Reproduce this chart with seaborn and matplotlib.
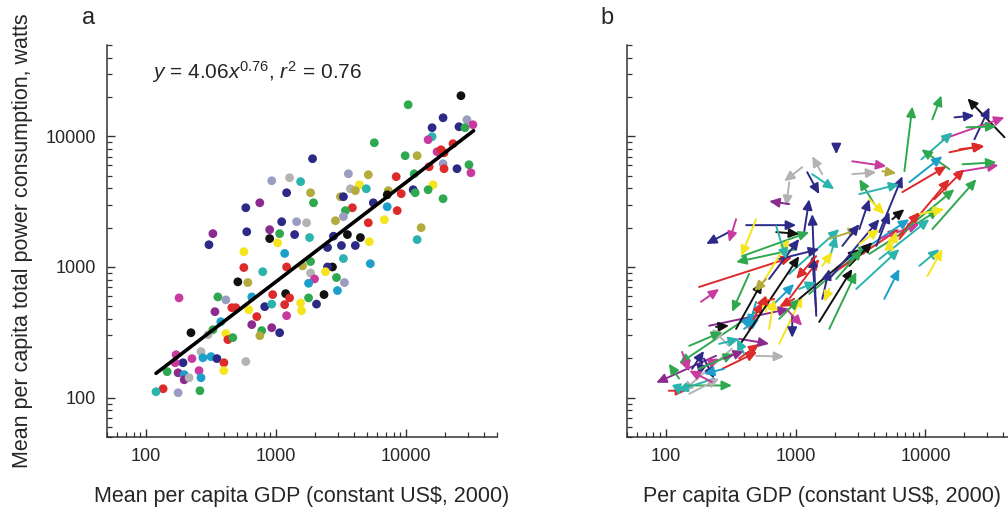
import matplotlib
matplotlib.use("Agg")
import matplotlib.pyplot as plt
import matplotlib.ticker as mticker
import seaborn as sns
import pandas as pd

# --- colours used for the country groups ---
PALETTE = {
    "N": "#2d2a87", "P": "#8b2a8f", "M": "#c93a9f", "R": "#dd2a2a",
    "G": "#2fa84f", "T": "#2bb3ad", "C": "#1c9fcb", "Y": "#f4e51e",
    "O": "#b3ab3c", "S": "#b3b3b3", "L": "#9b9cc2", "K": "#111111",
}

# --- panel a: mean per capita GDP vs mean per capita power ---
gdp_a = [26390, 10360, 19220, 29330, 15820, 25480, 28330, 32600, 15820, 14750,
         5689, 22910, 17280, 18540, 19560, 9820, 12140, 19220, 30410, 24600,
         19560, 31480, 15010, 8378, 11520, 5111, 3594, 16100, 4365, 3723,
         4064, 4932, 14750, 11320, 11720, 9160, 7278, 7149, 3121, 3290,
         5589, 7149, 3856, 3409, 3290, 8529, 19220, 2858, 5111, 6780,
         13030, 12140, 2758, 3531, 4444, 5203, 2483, 3176, 4064, 1904,
         924, 1268, 1541, 1203, 1838, 1937, 748, 584, 1102, 1436,
         1714, 326, 594, 891, 1063, 1386, 1806, 891, 1026, 304,
         564, 1162, 564, 788, 1203, 1838, 1596, 507, 605, 1838,
         1972, 1775, 179, 356, 410, 649, 940, 1183, 1268, 456,
         489, 615, 816, 924, 1162, 1775, 1541, 1568, 2043, 338,
         709, 1203, 375, 649, 924, 1063, 326, 221, 299, 410,
         425, 464, 774, 748, 170, 264, 273, 192, 225, 315,
         350, 396, 584, 396, 145, 167, 176, 255, 196, 196,
         264, 214, 135, 119, 176, 259, 3290, 5297, 2710, 2483,
         2394, 2909, 3349, 2961, 2333]
power_a = [20460, 17450, 13870, 13400, 11640, 11840, 11640, 12270, 9930, 9420,
           8930, 8780, 7620, 7890, 7480, 7110, 7110, 6170, 6060, 5650,
           5650, 5260, 5850, 4910, 5170, 5080, 5170, 4260, 4260, 3970,
           3840, 3970, 3900, 3900, 3700, 3640, 3840, 3570, 3450, 3450,
           3100, 2890, 2840, 2700, 2430, 2700, 3330, 2260, 2180, 2300,
           2000, 1620, 1720, 1770, 1680, 1560, 1410, 1460, 1460, 6740,
           4570, 4820, 4500, 3700, 3700, 3100, 3100, 2840, 2220, 2220,
           2180, 1800, 1860, 1930, 1800, 1770, 1680, 1650, 1530, 1480,
           1310, 1270, 990, 920, 1000, 1100, 1020, 770, 760, 900,
           810, 750, 580, 590, 560, 590, 615, 625, 580, 488,
           488, 471, 497, 520, 515, 580, 530, 463, 520, 455,
           417, 424, 381, 362, 343, 314, 331, 314, 303, 309,
           278, 288, 326, 298, 213, 225, 202, 185, 199, 206,
           199, 185, 189, 161, 158, 185, 155, 161, 150, 137,
           142, 142, 117, 111, 109, 113, 1160, 1060, 1000, 1000,
           920, 830, 760, 660, 615]
group_a = list("KGNLNNGMTM" "GRMRRGOLGN" "RMRRGOLYYS" "OTGNGROKON"
               "NCRGLRGORY" "OTNKKYNNNN" "LSTNOGPNNL" "SPNPGNTKYN"
               "YCRTRGOKOS" "MCMGLCRKRR" "RYNTRGYYNP" "RMCPPNGKSY"
               "RGGOMSCNMC" "NRSYGMPMCP" "CSRTLGTCKN" "YGLCK")

# fitted power law shown on the chart
FIT_A, FIT_B = 4.06, 0.76
fit_gdp = [119, 33000]

# --- panel b: trajectories (start -> end) ---
tail_gdp = [40740, 6886, 11320, 23880, 16750, 13520, 20750, 9312, 15320, 18320,
            15320, 17350, 19310, 7521, 6643, 11320, 6299, 4416, 2730, 2730,
            4658, 2055, 1602, 1227, 1340, 1122, 891, 891, 1164, 415,
            306, 347, 495, 386, 180, 186, 437, 495, 243, 323,
            143, 271, 495, 105, 122, 190, 133, 215, 746, 940,
            495, 1518, 1815, 2931, 8987, 10360, 891, 1439, 845, 243,
            306, 592, 415, 1009, 347, 437, 523, 624, 891, 1064,
            1271, 1815, 2168, 2588, 1815, 3093, 3696, 4416, 746, 4038,
            3696, 3093, 4822, 5561, 235, 180, 196, 151, 180, 257,
            366, 400, 366, 682, 624, 746, 1602, 4416, 6299, 3093,
            5561, 11720, 8987,
            707, 707, 1439, 592, 366, 1439, 6299, 5272, 4188, 2290,
            2588, 1815, 1602, 2055, 682, 973, 1815, 1064, 151, 159,
            226, 280, 126, 280, 400]
tail_pow = [9830, 5410, 13490, 9490, 13960, 9490, 11720, 6670, 7550, 7960,
            5600, 5310, 6110, 4450, 3740, 1950, 1640, 1850, 6440, 5130,
            5410, 7960, 5130, 5310, 5130, 5800, 4450, 3030, 1880, 2090,
            1850, 2320, 2320, 1210, 703, 541, 885, 453, 209, 237,
            124, 166, 209, 113, 124, 188, 224, 355, 258, 423,
            541, 380, 336, 679, 1020, 853, 570, 453, 478, 348,
            249, 453, 380, 1370, 336, 336, 679, 810, 885, 570,
            622, 810, 966, 1150, 1640, 1500, 1260, 1640, 1150, 3030,
            3300, 3610, 570, 1500, 140, 166, 199, 107, 166, 258,
            199, 336, 282, 523, 336, 401, 570, 1150, 1770, 1950,
            2320, 3300, 2540,
            1850, 2060, 423, 810, 249, 1210, 1730, 1370, 1450, 1450,
            1020, 1150, 1020, 810, 570, 570, 679, 679, 249, 166,
            132, 166, 140, 199, 217]
head_gdp = [21090, 7932, 13300, 31190, 23880, 40740, 35320, 16150, 28050, 28560,
            9312, 36630, 35320, 13520, 14530, 24770, 15320, 6643, 5000, 4188,
            5973, 2055, 1340, 1518, 1982, 815, 845, 624, 1271, 1009,
            204, 306, 380, 1271, 940, 257, 323, 126, 84, 133,
            323, 504, 815, 143, 126, 180, 151, 891, 1122, 940,
            437, 2730, 2931, 6299, 12820, 13520, 1518, 1340, 1122, 306,
            226, 592, 460, 347, 551, 551, 891, 1064, 2168, 3093,
            3696, 4416, 6299, 7521, 3093, 4416, 12820, 8987, 1518, 3093,
            4822, 6299, 6299, 5973, 122, 257, 235, 257, 335, 366,
            523, 523, 624, 973, 682, 1064, 1815, 10730, 16750, 3696,
            6886, 20000, 14030,
            1064, 845, 1340, 478, 1064, 1009, 8987, 5272, 5272, 3093,
            3899, 2055, 1915, 3263, 495, 746, 1660, 1439, 271, 196,
            151, 196, 105, 400, 353]
head_pow = [19500, 16940, 20560, 16650, 14450, 13960, 11920, 10730, 8530, 8390,
            7960, 6010, 6330, 7040, 5900, 4700, 4700, 4950, 5900, 5310,
            5220, 7290, 7040, 3610, 3940, 4530, 2920, 3190, 3300, 2090,
            1500, 1550, 1210, 1850, 1190, 679, 453, 182, 130, 111,
            124, 224, 206, 113, 104, 147, 158, 478, 601, 287,
            355, 966, 916, 1370, 1370, 1370, 1150, 1210, 355, 355,
            336, 601, 423, 1090, 768, 541, 1640, 1640, 1950, 1370,
            1500, 2320, 1950, 2320, 1950, 1950, 2770, 2130, 1370, 4700,
            2540, 4300, 966, 1880, 113, 199, 140, 140, 217, 282,
            258, 401, 258, 741, 570, 570, 966, 2320, 3940, 3300,
            2770, 5600, 2770,
            1790, 1150, 2540, 656, 1210, 810, 2630, 1640, 2630, 2130,
            1550, 1730, 1300, 1370, 523, 495, 541, 768, 319, 228,
            161, 152, 182, 228, 282]
group_b = list("KGGNNMGTRR" "GMGCRGRNMS" "ONSNTSSPNN" "NMYGRMGGPS"
               "GRSRTNMPYN" "CKGTTYRNMK" "SYCGKRYNTK" "GNRCOYGMNG"
               "YTCYTMNSGT" "RCPCYGNTGN" "KRY"
               "KTNOKRRYNN" "KTYGRRYTGN" "MCGPT")

# --- style ---
sns.set_style("ticks")
plt.rcParams["font.family"] = ["Liberation Sans", "DejaVu Sans"]
plt.rcParams["mathtext.fontset"] = "custom"
plt.rcParams["mathtext.rm"] = "Liberation Sans"
plt.rcParams["mathtext.it"] = "Liberation Sans:italic"
plt.rcParams["axes.edgecolor"] = "#333333"
plt.rcParams["axes.linewidth"] = 1.1

fig = plt.figure(figsize=(10.08, 5.09), dpi=100)
ax_a = fig.add_axes([0.1062, 0.1415, 0.3869, 0.7701])
ax_b = fig.add_axes([0.622, 0.1415, 0.386, 0.7701])


def style_log_axes(ax, show_ylabels=True):
    ax.set_xscale("log")
    ax.set_yscale("log")
    ax.set_xlim(50, 50000)
    ax.set_ylim(50, 50000)
    sns.despine(ax=ax)
    for axis in (ax.xaxis, ax.yaxis):
        axis.set_major_locator(mticker.FixedLocator([100, 1000, 10000]))
        axis.set_major_formatter(mticker.FuncFormatter(lambda v, _: f"{v:.0f}"))
        axis.set_minor_locator(mticker.LogLocator(base=10, subs=range(2, 10)))
        axis.set_minor_formatter(mticker.NullFormatter())
    ax.tick_params(which="major", direction="in", length=6, width=1.0,
                   color="#333333", labelsize=13, pad=8)
    ax.tick_params(which="minor", direction="in", length=3.5, width=0.9,
                   color="#333333")
    if not show_ylabels:
        ax.tick_params(axis="y", which="both", labelleft=False)


# Panel a
df_a = pd.DataFrame({"gdp": gdp_a, "power": power_a, "group": group_a})
sns.scatterplot(data=df_a, x="gdp", y="power", hue="group", palette=PALETTE,
                s=40, linewidth=0, legend=False, ax=ax_a, zorder=2)
fit_df = pd.DataFrame({"gdp": fit_gdp,
                       "power": [FIT_A * g ** FIT_B for g in fit_gdp]})
sns.lineplot(data=fit_df, x="gdp", y="power", color="black", lw=2.6,
             ax=ax_a, zorder=3)
style_log_axes(ax_a)
ax_a.set_xlabel("Mean per capita GDP (constant US$, 2000)", fontsize=15.5,
                labelpad=15)
ax_a.set_ylabel("Mean per capita total power consumption, watts",
                fontsize=15.5, labelpad=9)
ax_a.text(0.115, 0.931,
          r"$\mathit{y}$ = 4.06$\mathit{x}^{0.76}$, $\mathit{r}^{2}$ = 0.76",
          transform=ax_a.transAxes, fontsize=15, va="center", ha="left")

# Panel b
for tx, ty, hx, hy, g in zip(tail_gdp, tail_pow, head_gdp, head_pow, group_b):
    ax_b.annotate("", xy=(hx, hy), xytext=(tx, ty),
                  arrowprops=dict(arrowstyle="-|>,head_length=0.6,head_width=0.28",
                                  color=PALETTE[g], lw=1.4, shrinkA=0, shrinkB=0,
                                  mutation_scale=10))
style_log_axes(ax_b, show_ylabels=False)
ax_b.set_xlabel("Per capita GDP (constant US$, 2000)", fontsize=15.5,
                labelpad=15)

fig.text(89 / 1008, 1 - 18 / 509, "a", fontsize=17, ha="center", va="center")
fig.text(607 / 1008, 1 - 18 / 509, "b", fontsize=17, ha="center", va="center")

fig.savefig("out.png", dpi=100)
